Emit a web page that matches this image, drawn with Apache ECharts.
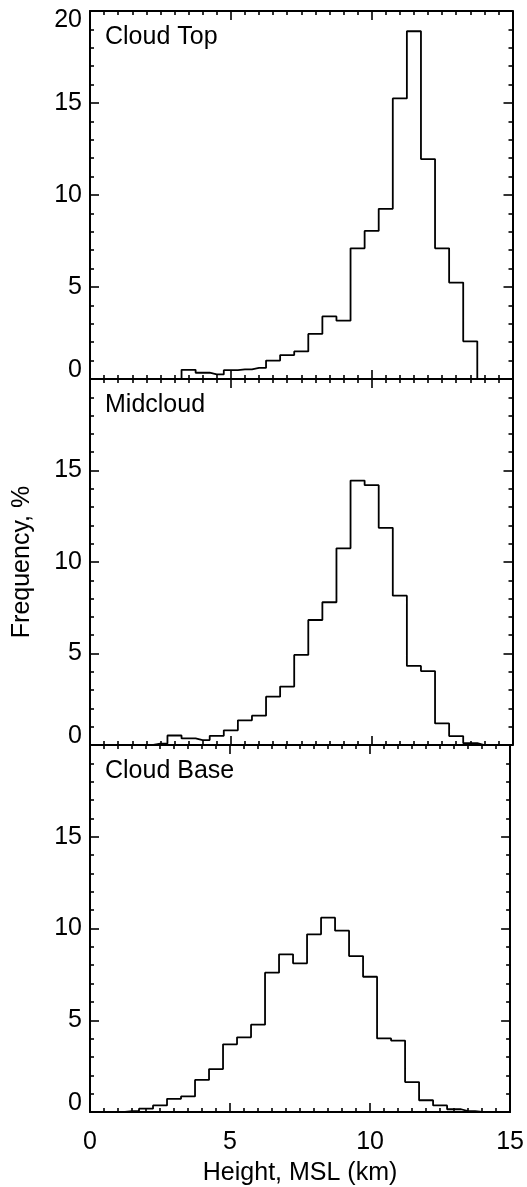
<!DOCTYPE html>
<html>
<head>
<meta charset="utf-8">
<script src="https://cdn.jsdelivr.net/npm/echarts@6/dist/echarts.min.js"></script>
<style>
  html, body { margin: 0; padding: 0; background: #ffffff; }
  #chart { width: 527px; height: 1187px; }
</style>
</head>
<body>
<div id="chart"></div>
<script>
// Bin centres (km) of the height histograms, 0.5 km bins
const heightKm = [0, 0.5, 1, 1.5, 2, 2.5, 3, 3.5, 4, 4.5, 5, 5.5, 6, 6.5, 7, 7.5,
                  8, 8.5, 9, 9.5, 10, 10.5, 11, 11.5, 12, 12.5, 13, 13.5, 14, 14.5, 15];

// Frequency (%) per bin
const cloudTop  = [0, 0, 0, 0, 0, 0, 0, 0.5, 0.34, 0.25, 0.48, 0.52, 0.6, 1.0, 1.3, 1.5,
                   2.45, 3.4, 3.17, 7.1, 8.05, 9.25, 15.25, 18.9, 11.95, 7.1, 5.24, 2.05, 0, 0, 0];
const midcloud  = [0, 0, 0, 0, 0, 0.08, 0.52, 0.36, 0.27, 0.5, 0.8, 1.35, 1.6, 2.64, 3.19, 4.92,
                   6.83, 7.8, 10.75, 14.45, 14.2, 11.87, 8.16, 4.32, 4.04, 1.18, 0.49, 0.1, 0, 0, 0];
const cloudBase = [0, 0, 0, 0.05, 0.18, 0.36, 0.72, 0.85, 1.75, 2.34, 3.69, 4.07, 4.76, 7.59, 8.59, 8.1,
                   9.68, 10.59, 9.88, 8.5, 7.37, 4.01, 3.89, 1.63, 0.64, 0.36, 0.15, 0.05, 0, 0, 0];

const panelNames = ['Cloud Top', 'Midcloud', 'Cloud Base'];
const panelSeries = [cloudTop, midcloud, cloudBase];

// Tick labels
const xTickLabels = [0, 5, 10, 15];
const yTickLabels = [0, 5, 10, 15, 20];

const xTitle = 'Height, MSL (km)';
const yTitle = 'Frequency, %';

const FONT_FAMILY = '"Liberation Sans", Arial, Helvetica, sans-serif';
const FONT_SIZE = 25;
const INK = '#000000';

// Panel layout (px)
const plotLeft = 90;
const plotRight = 14.5;
const panelTop = [11, 379, 745];
const panelHeight = [368, 366, 367];

const grids = panelTop.map((t, i) => ({
  left: plotLeft, right: plotRight, top: t, height: panelHeight[i], containLabel: false
}));

const axisLine = { show: true, onZero: false, lineStyle: { color: INK, width: 2 } };
const majorTick = { show: true, inside: true, length: 9, lineStyle: { color: INK, width: 1.6 } };
const labelFont = { color: INK, fontFamily: FONT_FAMILY, fontSize: FONT_SIZE };

function xAxisFor(i, position) {
  const isBottomLabelled = position === 'bottom' && i === 2;
  return {
    type: 'value', gridIndex: i, position: position,
    min: xTickLabels[0], max: xTickLabels[xTickLabels.length - 1],
    interval: xTickLabels[1] - xTickLabels[0],
    axisLine: axisLine,
    axisTick: majorTick,
    minorTick: { show: true, splitNumber: 10, length: 4, lineStyle: { color: INK, width: 1.6 } },
    splitLine: { show: false },
    minorSplitLine: { show: false },
    axisLabel: Object.assign({ show: isBottomLabelled, margin: 18 }, labelFont),
    name: isBottomLabelled ? xTitle : '',
    nameLocation: 'middle', nameGap: 49,
    nameTextStyle: labelFont
  };
}

function yAxisFor(i, position) {
  const labelled = position === 'left';
  const yMin = yTickLabels[0];
  const yMax = yTickLabels[yTickLabels.length - 1];
  return {
    type: 'value', gridIndex: i, position: position,
    min: yMin, max: yMax,
    interval: yTickLabels[1] - yTickLabels[0],
    axisLine: axisLine,
    axisTick: majorTick,
    minorTick: { show: true, splitNumber: 5, length: 4, lineStyle: { color: INK, width: 1.6 } },
    splitLine: { show: false },
    minorSplitLine: { show: false },
    axisLabel: Object.assign({
      show: labelled, margin: 8,
      showMaxLabel: i === 0,
      // end labels sit just inside the panel edge
      formatter: v => v === yMin ? '{lo|' + v + '}' : (v === yMax ? '{hi|' + v + '}' : String(v)),
      rich: {
        lo: Object.assign({ padding: [0, 0, 18, 0] }, labelFont),
        hi: Object.assign({ padding: [18, 0, 0, 0] }, labelFont)
      }
    }, labelFont),
    name: (labelled && i === 1) ? yTitle : '',
    nameLocation: 'middle', nameGap: 55,
    nameTextStyle: labelFont
  };
}

const xAxes = [];
const yAxes = [];
const series = [];
panelSeries.forEach((vals, i) => {
  xAxes.push(xAxisFor(i, 'bottom'));
  xAxes.push(xAxisFor(i, 'top'));
  yAxes.push(yAxisFor(i, 'left'));
  yAxes.push(yAxisFor(i, 'right'));
  series.push({
    name: panelNames[i],
    type: 'line',
    xAxisIndex: 2 * i,
    yAxisIndex: 2 * i,
    step: 'middle',
    symbol: 'none',
    silent: true,
    animation: false,
    lineStyle: { color: INK, width: 1.8 },
    data: heightKm.map((h, j) => [h, vals[j]])
  });
});

// Panel captions in the upper-left corner of each plot
const captions = panelNames.map((name, i) => ({
  type: 'text',
  left: 105,
  top: panelTop[i] + 14,
  style: { text: name, fill: INK, font: FONT_SIZE + 'px ' + FONT_FAMILY }
}));

const chart = echarts.init(document.getElementById('chart'), null, { renderer: 'canvas' });
chart.setOption({
  backgroundColor: '#ffffff',
  animation: false,
  grid: grids,
  xAxis: xAxes,
  yAxis: yAxes,
  series: series,
  graphic: captions
});
</script>
</body>
</html>
